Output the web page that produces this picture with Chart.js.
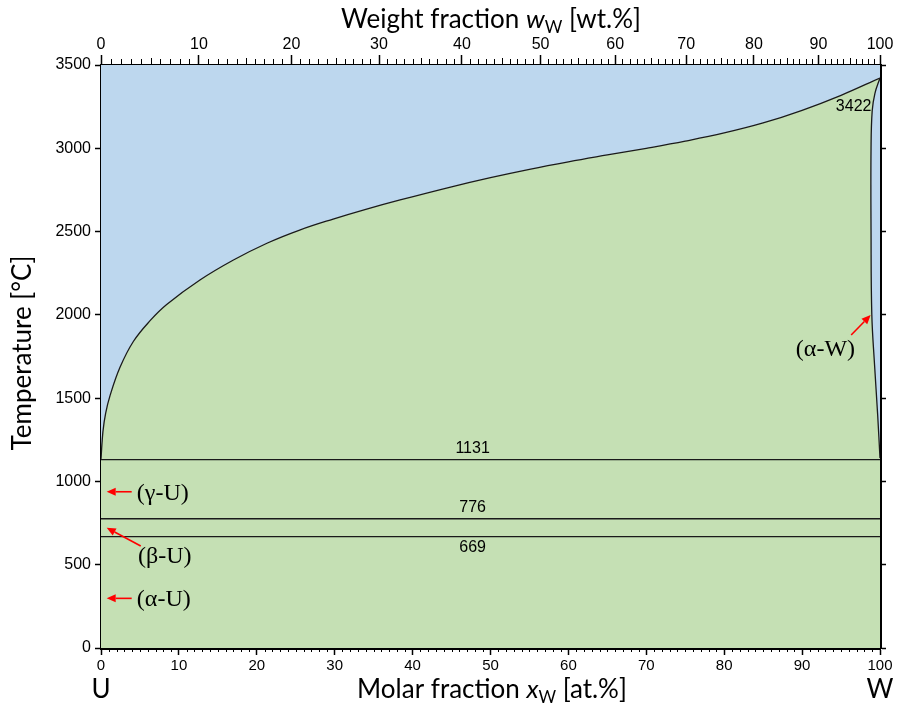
<!DOCTYPE html>
<html>
<head>
<meta charset="utf-8">
<script src="https://cdn.jsdelivr.net/npm/chart.js@4.4.1/dist/chart.umd.min.js"></script>
<style>
  html, body { margin: 0; padding: 0; background: #fff; }
  #wrap { width: 898px; height: 708px; }
</style>
</head>
<body>
<div id="wrap"><canvas id="phaseChart" width="898" height="708"></canvas></div>
<script>
// liquidus: molar fraction W [at.%] vs temperature [°C]
const liquidusX = [0, 0.25, 0.6, 1.16, 2.44, 4.15, 6.3, 8.43, 12.7, 17.0, 21.3, 25.5, 29.8, 34.1, 38.4, 45, 50, 55, 60, 65, 70, 75, 80, 85, 90, 95, 100];
const liquidusT = [1135, 1300, 1410, 1515, 1685, 1840, 1965, 2062, 2209, 2329, 2430, 2509, 2575, 2635, 2690, 2769, 2824, 2874, 2919, 2960, 3000, 3043, 3092, 3152, 3228, 3318, 3422];

// solidus of (α-W), the narrow sliver at the W side
const solidusX = [100, 99.35, 99.0, 98.85, 98.85, 98.95, 99.3, 99.7, 100];
const solidusT = [3422, 3330, 3225, 3000, 2500, 2000, 1700, 1400, 1140];

// invariant / transition lines
const isothermT = [1131, 776, 669];
const isothermLabels = ['1131', '776', '669'];
const isothermLabelT = [1195, 842, 602];

// tick labels
const molarTicks = [0, 10, 20, 30, 40, 50, 60, 70, 80, 90, 100];
const weightTicks = [0, 10, 20, 30, 40, 50, 60, 70, 80, 90, 100];
const tempTicks = [0, 500, 1000, 1500, 2000, 2500, 3000, 3500];

// phase labels with red arrows
const phaseLabels = ['(γ-U)', '(β-U)', '(α-U)', '(α-W)'];
const phaseLabelX = [4.6, 4.75, 4.6, 89.2];
const phaseLabelT = [924, 546, 288, 1790];
const arrowFromX = [3.94, 5.1, 3.94, 96.3];
const arrowFromT = [938, 612, 298, 1879];
const arrowToX = [0.73, 0.73, 0.73, 98.8];
const arrowToT = [938, 722, 298, 1999];

const M_W = 183.84, M_U = 238.03;
function wtToAt(w) {
  const a = w / M_W, b = (100 - w) / M_U;
  return a / (a + b) * 100;
}

const blue = '#BDD7EE';
const green = '#C5E0B4';
const lineCol = '#1a1a1a';

const liquidus = liquidusX.map((x, i) => ({x: x, y: liquidusT[i]}));
const solidus = solidusX.map((x, i) => ({x: x, y: solidusT[i]}));

const datasets = [
  {data: liquidus, fill: 'origin', backgroundColor: green, borderWidth: 0, pointRadius: 0, tension: 0.4, order: 6},
  {data: liquidus, fill: 'end', backgroundColor: blue, borderColor: lineCol, borderWidth: 1.3, pointRadius: 0, tension: 0.4, order: 5},
  {data: solidus, fill: 'shape', backgroundColor: blue, borderColor: lineCol, borderWidth: 1.3, pointRadius: 0, tension: 0.4, order: 4}
];
isothermT.forEach(t => {
  datasets.push({data: [{x: 0, y: t}, {x: 100, y: t}], fill: false, borderColor: lineCol, borderWidth: 1.3, pointRadius: 0, order: 1});
});

const sansFam = '"Liberation Sans", Arimo, Arial, sans-serif';
const tickFont = {family: sansFam, size: 16};

const extras = {
  id: 'extras',
  afterDraw(chart) {
    const ctx = chart.ctx;
    const xs = chart.scales.x, ys = chart.scales.y, a = chart.chartArea;
    ctx.save();
    ctx.strokeStyle = '#000';
    ctx.lineWidth = 1;
    // minor ticks bottom (every 1 at.%)
    for (let v = 0; v <= 100; v++) {
      if (v % 10 === 0) continue;
      const px = Math.round(xs.getPixelForValue(v)) + 0.5;
      ctx.beginPath(); ctx.moveTo(px, a.bottom + 1); ctx.lineTo(px, a.bottom + 4); ctx.stroke();
    }
    // minor ticks top (every 1 wt.%)
    for (let w = 0; w <= 100; w++) {
      if (w % 10 === 0) continue;
      const px = Math.round(xs.getPixelForValue(wtToAt(w))) + 0.5;
      const len = w % 5 === 0 ? 6 : 5;
      ctx.beginPath(); ctx.moveTo(px, a.top - 1); ctx.lineTo(px, a.top - 1 - len); ctx.stroke();
    }

    // isotherm values
    ctx.fillStyle = '#000';
    ctx.font = '16px ' + sansFam;
    ctx.textAlign = 'center';
    ctx.textBaseline = 'middle';
    isothermLabels.forEach((s, i) => {
      ctx.fillText(s, xs.getPixelForValue(47.7), ys.getPixelForValue(isothermLabelT[i]));
    });
    ctx.textAlign = 'right';
    ctx.fillText('3422', xs.getPixelForValue(98.9), ys.getPixelForValue(3250));

    // phase labels
    ctx.font = '24px "Liberation Serif", "Times New Roman", serif';
    ctx.textAlign = 'left';
    phaseLabels.forEach((s, i) => {
      ctx.fillText(s, xs.getPixelForValue(phaseLabelX[i]), ys.getPixelForValue(phaseLabelT[i]));
    });

    // red arrows
    ctx.strokeStyle = '#ff0000';
    ctx.fillStyle = '#ff0000';
    ctx.lineWidth = 1.6;
    phaseLabels.forEach((s, i) => {
      const x0 = xs.getPixelForValue(arrowFromX[i]), y0 = ys.getPixelForValue(arrowFromT[i]);
      const x1 = xs.getPixelForValue(arrowToX[i]), y1 = ys.getPixelForValue(arrowToT[i]);
      const ang = Math.atan2(y1 - y0, x1 - x0);
      const hl = 9, hw = 4;
      const bx = x1 - hl * Math.cos(ang), by = y1 - hl * Math.sin(ang);
      ctx.beginPath(); ctx.moveTo(x0, y0); ctx.lineTo(bx, by); ctx.stroke();
      ctx.beginPath();
      ctx.moveTo(x1, y1);
      ctx.lineTo(bx + hw * Math.sin(ang), by - hw * Math.cos(ang));
      ctx.lineTo(bx - hw * Math.sin(ang), by + hw * Math.cos(ang));
      ctx.closePath(); ctx.fill();
    });

    // axis titles
    ctx.fillStyle = '#000';
    ctx.textBaseline = 'alphabetic';
    const fam = "Lato, 'Open Sans', sans-serif";
    function drawParts(parts, cx, y) {
      let total = 0;
      parts.forEach(p => { ctx.font = p.f; p.w = ctx.measureText(p.t).width; total += p.w; });
      let x = cx - total / 2;
      ctx.textAlign = 'left';
      parts.forEach(p => { ctx.font = p.f; ctx.fillText(p.t, x, y + (p.dy || 0)); x += p.w; });
    }
    drawParts([
      {t: 'Weight fraction ', f: '26px ' + fam},
      {t: 'w', f: 'italic 26px ' + fam},
      {t: 'W', f: '17px ' + fam, dy: 5},
      {t: ' [wt.%]', f: '26px ' + fam}
    ], 491, 28);
    drawParts([
      {t: 'Molar fraction ', f: '26px ' + fam},
      {t: 'x', f: 'italic 26px ' + fam},
      {t: 'W', f: '17px ' + fam, dy: 5},
      {t: ' [at.%]', f: '26px ' + fam}
    ], 492, 698);
    ctx.font = '26px ' + fam;
    ctx.textAlign = 'center';
    ctx.fillText('U', xs.getPixelForValue(0), 698);
    ctx.fillText('W', xs.getPixelForValue(100), 698);
    ctx.save();
    ctx.translate(31, 353);
    ctx.rotate(-Math.PI / 2);
    ctx.fillText('Temperature [°C]', 0, 0);
    ctx.restore();
    ctx.restore();
  }
};

const config = {
  type: 'line',
  data: {datasets: datasets},
  options: {
    responsive: false,
    animation: false,
    devicePixelRatio: 1,
    layout: {padding: 0},
    plugins: {legend: {display: false}, tooltip: {enabled: false}},
    scales: {
      x: {
        type: 'linear', position: 'bottom', min: 0, max: 100,
        afterBuildTicks: s => { s.ticks = molarTicks.map(v => ({value: v})); },
        afterFit: s => { s.height = 60; },
        ticks: {autoSkip: false, maxRotation: 0, color: '#000', padding: 2, font: {family: sansFam, size: 15},
          callback: (v, i) => String(molarTicks[i])},
        grid: {drawOnChartArea: false, tickLength: 7, tickColor: '#000', tickWidth: 1.5},
        border: {color: '#000', width: 3}
      },
      x2: {
        type: 'linear', position: 'top', min: 0, max: 100,
        afterBuildTicks: s => { s.ticks = weightTicks.map(w => ({value: wtToAt(w)})); },
        afterFit: s => { s.height = 65; },
        ticks: {autoSkip: false, maxRotation: 0, color: '#000', padding: 1, font: tickFont,
          callback: (v, i) => String(weightTicks[i])},
        grid: {drawOnChartArea: false, tickLength: 10, tickColor: '#000', tickWidth: 1.5},
        border: {color: '#000', width: 3}
      },
      y: {
        type: 'linear', position: 'left', min: 0, max: 3500,
        afterBuildTicks: s => { s.ticks = tempTicks.map(v => ({value: v})); },
        afterFit: s => { s.width = 101; },
        ticks: {color: '#000', padding: 4, font: tickFont, callback: (v, i) => String(tempTicks[i])},
        grid: {drawOnChartArea: false, tickLength: 6, tickColor: '#000', tickWidth: 1.5},
        border: {color: '#000', width: 3}
      },
      y2: {
        type: 'linear', position: 'right', min: 0, max: 3500,
        afterBuildTicks: s => { s.ticks = tempTicks.map(v => ({value: v})); },
        afterFit: s => { s.width = 18; },
        ticks: {display: false},
        grid: {drawOnChartArea: false, tickLength: 6, tickColor: '#000', tickWidth: 1.5},
        border: {color: '#000', width: 3}
      }
    }
  },
  plugins: [extras]
};

const phaseChart = new Chart(document.getElementById('phaseChart'), config);
</script>
</body>
</html>
